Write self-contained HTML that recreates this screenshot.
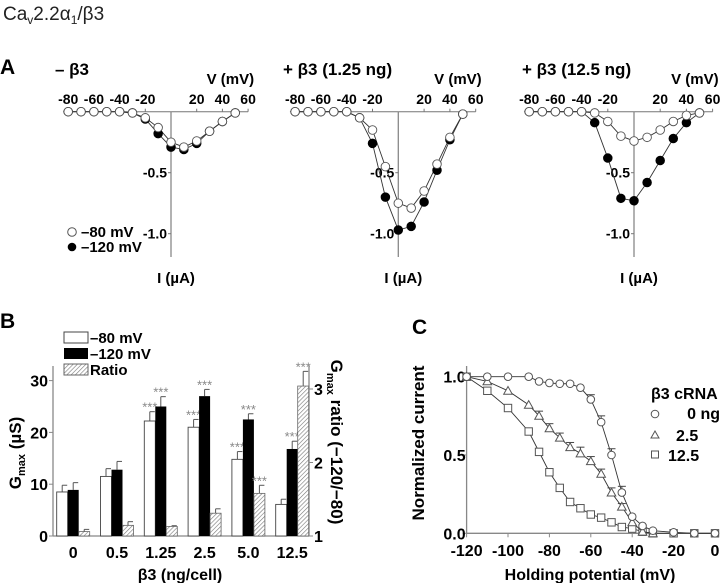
<!DOCTYPE html>
<html><head><meta charset="utf-8">
<style>
body{margin:0;background:#fff;}
svg{display:block;font-family:"Liberation Sans",Arial,sans-serif;}
.b{font-weight:bold;}
</style></head>
<body>
<svg id="fig" width="720" height="583" viewBox="0 0 720 583" xmlns="http://www.w3.org/2000/svg">
<rect width="720" height="583" fill="#fff"/>
<text x="3" y="20" font-size="19" fill="#222">Ca<tspan font-size="12" dy="4">v</tspan><tspan dy="-4">2.2α</tspan><tspan font-size="12" dy="4">1</tspan><tspan dy="-4">/β3</tspan></text>
<text x="0" y="74" font-size="21" class="b">A</text>
<text x="0" y="328" font-size="21" class="b">B</text>
<text x="412" y="334" font-size="21" class="b">C</text>
<g id="gA"></g><g id="gB"></g><g id="gC"></g>
</svg>
<script>
// ---------- Panel A data ----------
const ivVoltages=[-80,-70,-60,-50,-40,-30,-20,-10,0,10,20,30,40,50];
const iv1Open=[0,0,0,0,0,-0.01,-0.05,-0.13,-0.25,-0.29,-0.24,-0.16,-0.08,-0.01];
const iv1Filled=[0,0,0,0,0,-0.01,-0.06,-0.18,-0.29,-0.31,-0.26,-0.16,-0.08,-0.01];
const iv2Open=[0,0,0,0,0,-0.05,-0.15,-0.45,-0.75,-0.79,-0.65,-0.43,-0.21,-0.02];
const iv2Filled=[0,0,0,0,0,-0.05,-0.26,-0.70,-0.97,-0.94,-0.74,-0.48,-0.23,-0.02];
const iv3Open=[0,0,0,0,0,-0.01,-0.08,-0.20,-0.24,-0.21,-0.15,-0.08,-0.03,-0.01];
const iv3Filled=[0,0,0,0,0,-0.09,-0.38,-0.71,-0.73,-0.58,-0.40,-0.22,-0.09,-0.01];
const ivXTicks=[-80,-60,-40,-20,20,40,60];
const ivYTicks=[-0.5,-1.0];
const ivTitles=["– β3","+ β3 (1.25 ng)","+ β3 (12.5 ng)"];
// ---------- Panel B data ----------
const bCategories=["0","0.5","1.25","2.5","5.0","12.5"];
const bWhite=[8.5,11.5,22.2,21,14.8,6.1];
const bWhiteErr=[1.3,1.5,1.8,1.5,1.5,1.0];
const bBlack=[8.9,12.8,25,27,22.5,16.8];
const bBlackErr=[1.4,1.6,1.9,1.3,1.1,1.5];
const bRatio=[1.06,1.145,1.13,1.31,1.58,3.04];
const bRatioErr=[0.03,0.05,0.01,0.06,0.11,0.2];
const bWhiteSig=[false,false,true,true,true,false];
const bBlackSig=[false,false,true,true,true,true];
const bRatioSig=[false,false,false,false,true,true];
const bLeftTicks=[0,10,20,30];
const bRightTicks=[1,2,3];
// ---------- Panel C data ----------
const cCircleX=[-120,-110,-100,-90,-85,-80,-75,-70,-65,-60,-55,-50,-45,-40,-35,-30,-20,-10,0];
const cCircleY=[1.0,1.0,1.0,1.0,0.97,0.96,0.955,0.955,0.93,0.855,0.71,0.5,0.26,0.106,0.047,0.017,0.006,0,0];
const cCircleErr=[0,0,0,0,0,0,0,0,0,0.03,0.04,0.04,0.04,0,0,0,0,0,0];
const cTriX=[-120,-110,-100,-90,-85,-80,-75,-70,-65,-60,-55,-50,-45,-40,-35,-30];
const cTriY=[1.0,0.97,0.91,0.82,0.75,0.67,0.61,0.55,0.51,0.46,0.38,0.26,0.17,0.07,0.01,0];
const cTriErr=[0,0,0,0,0.03,0.03,0.03,0.03,0.04,0.03,0.03,0.03,0.02,0,0,0];
const cSqX=[-120,-110,-100,-90,-85,-80,-75,-70,-65,-60,-55,-50,-45,-40,-35,-30,-20,-10,0];
const cSqY=[1.0,0.91,0.80,0.65,0.52,0.39,0.29,0.20,0.16,0.12,0.10,0.07,0.04,0.03,0.01,0,0,0,0];
const cXTicks=[-120,-100,-80,-60,-40,-20,0];
const cYTicks=[0,0.5,1.0];

const NS="http://www.w3.org/2000/svg";
function mk(parent,tag,attrs,text){const e=document.createElementNS(NS,tag);for(const k in attrs)e.setAttribute(k,attrs[k]);if(text!==undefined)e.textContent=text;parent.appendChild(e);return e;}

// ---------- Panel A ----------
const gA=document.getElementById('gA');
const ivPanels=[
 {x0:171,px:1.285,open:iv1Open,filled:iv1Filled,tx:55},
 {x0:398.3,px:1.29,open:iv2Open,filled:iv2Filled,tx:283},
 {x0:634,px:1.31,open:iv3Open,filled:iv3Filled,tx:522}
];
const ivY0=111.7, ivYs=122;
ivPanels.forEach((p,pi)=>{
 const X=v=>p.x0+v*p.px, Y=i=>ivY0-i*ivYs;
 const g=mk(gA,'g',{});
 
 
 const t=mk(g,'text',{x:p.tx,y:75,'font-size':17,'font-weight':'bold'},ivTitles[pi]);
 
 
 const xa=mk(g,'line',{x1:X(-84),x2:X(60),y1:ivY0,y2:ivY0,stroke:'#777','stroke-width':1});
 
 
 const ya=mk(g,'line',{x1:X(0),x2:X(0),y1:ivY0,y2:257,stroke:'#888','stroke-width':1.3});
 
 
 ivXTicks.forEach(v=>{
  mk(g,'line',{x1:X(v),x2:X(v),y1:ivY0-3,y2:ivY0,stroke:'#777'});
  const l=mk(g,'text',{x:X(v),y:104,'font-size':14,'font-weight':'bold','text-anchor':'middle'},String(v));
  
  
 });
 ivYTicks.forEach(v=>{
  mk(g,'line',{x1:X(0)-3,x2:X(0),y1:Y(v),y2:Y(v),stroke:'#777'});
  const l=mk(g,'text',{x:X(0)-4,y:Y(v)+5,'font-size':14,'font-weight':'bold','text-anchor':'end'},v.toFixed(1));
  
  
 });
 const vl=mk(g,'text',{x:X(60)+6,y:84,'font-size':15,'font-weight':'bold','text-anchor':'end'},'V (mV)');
 
 
 const il=mk(g,'text',{x:X(0)+5,y:283,'font-size':15,'font-weight':'bold','text-anchor':'middle'},'I (µA)');
 
 
 [[p.filled,'#000'],[p.open,'#fff']].forEach(([arr,fill])=>{
  const pts=ivVoltages.map((v,i)=>X(v)+','+Y(arr[i])).join(' ');
  const ln=mk(g,'polyline',{points:pts,fill:'none',stroke:'#333','stroke-width':0.9});
  
  
 });
 [[p.filled,'#000','filled'],[p.open,'#fff','open']].forEach(([arr,fill,nm])=>{
  ivVoltages.forEach((v,i)=>{
   const c=mk(g,'circle',{cx:X(v),cy:Y(arr[i]),r:4.3,fill:fill,stroke:fill==='#000'?'#000':'#555','stroke-width':0.9});
   
   
  });
 });
});
{
 const g=mk(gA,'g',{});
 
 
 mk(g,'circle',{cx:72,cy:232,r:4.3,fill:'#fff',stroke:'#555'});
 mk(g,'text',{x:81,y:237,'font-size':15,'font-weight':'bold'},'–80 mV');
 mk(g,'circle',{cx:72,cy:247,r:4.3,fill:'#000'});
 mk(g,'text',{x:81,y:252,'font-size':15,'font-weight':'bold'},'–120 mV');
}

// ---------- Panel B ----------
const gB=document.getElementById('gB');
mk(gB,'defs',{}).innerHTML='<pattern id="hatch" width="3" height="3" patternUnits="userSpaceOnUse" patternTransform="rotate(45)"><rect width="3" height="3" fill="#fff"/><line x1="0" y1="0" x2="0" y2="3" stroke="#777" stroke-width="1.2"/></pattern>';
const bL=53,bR=309,bY0=536;
const BY=v=>bY0-v*5.18, RY=r=>bY0-(r-1)*73.5;
const groupX=i=>56.7+i*43.8;
const bw=11;
{
 const a=mk(gB,'line',{x1:bL,x2:bL,y1:366,y2:bY0,stroke:'#888','stroke-width':1.3});
 
 
 const r=mk(gB,'line',{x1:bR,x2:bR,y1:365,y2:bY0,stroke:'#888','stroke-width':1.3});
 
 
 const x=mk(gB,'line',{x1:bL,x2:bR,y1:bY0,y2:bY0,stroke:'#888','stroke-width':1.3});
 
 
}
bLeftTicks.forEach(v=>{
 mk(gB,'line',{x1:bL-4,x2:bL,y1:BY(v),y2:BY(v),stroke:'#888'});
 const l=mk(gB,'text',{x:bL-5,y:BY(v)+6,'font-size':16,'font-weight':'bold','text-anchor':'end'},String(v));
 
 
});
bRightTicks.forEach(v=>{
 mk(gB,'line',{x1:bR,x2:bR+4,y1:RY(v),y2:RY(v),stroke:'#888'});
 const l=mk(gB,'text',{x:bR+5,y:RY(v)+6,'font-size':16,'font-weight':'bold'},String(v));
 
 
});
function star(x,y){const s=mk(gB,'text',{x:x,y:y+3,'font-size':13,fill:'#888','text-anchor':'middle'},'***');}
function errBar(x,y1,y2){mk(gB,'line',{x1:x,x2:x,y1:y1,y2:y2,stroke:'#555'});mk(gB,'line',{x1:x,x2:x+5,y1:y2,y2:y2,stroke:'#555'});}
bCategories.forEach((c,i)=>{
 const gx=groupX(i);
 let top=BY(bWhite[i]);
 errBar(gx+bw/2,top,BY(bWhite[i]+bWhiteErr[i]));
 const w=mk(gB,'rect',{x:gx,y:top,width:bw,height:bY0-top,fill:'#fff',stroke:'#444','stroke-width':0.9});
 
 
 if(bWhiteSig[i]) star(gx+bw/2,BY(bWhite[i]+bWhiteErr[i])-3);
 top=BY(bBlack[i]);
 errBar(gx+bw*1.5,top,BY(bBlack[i]+bBlackErr[i]));
 const b=mk(gB,'rect',{x:gx+bw,y:top,width:bw,height:bY0-top,fill:'#000'});
 
 
 if(bBlackSig[i]) star(gx+bw*1.5,BY(bBlack[i]+bBlackErr[i])-3);
 top=RY(bRatio[i]);
 errBar(gx+bw*2.5,top,RY(bRatio[i]+bRatioErr[i]));
 const r=mk(gB,'rect',{x:gx+bw*2,y:top,width:bw,height:bY0-top,fill:'url(#hatch)',stroke:'#666','stroke-width':0.8});
 
 
 if(bRatioSig[i]) star(gx+bw*2.5,RY(bRatio[i]+bRatioErr[i])-3);
 const l=mk(gB,'text',{x:gx+bw*1.5,y:558,'font-size':16,'font-weight':'bold','text-anchor':'middle'},c);
 
 
});
{
 const g=mk(gB,'g',{});
 
 
 mk(g,'rect',{x:64,y:332,width:24,height:11,fill:'#fff',stroke:'#444'});
 mk(g,'text',{x:90,y:343,'font-size':15,'font-weight':'bold'},'–80 mV');
 mk(g,'rect',{x:64,y:348,width:24,height:11,fill:'#000'});
 mk(g,'text',{x:90,y:359,'font-size':15,'font-weight':'bold'},'–120 mV');
 mk(g,'rect',{x:64,y:364,width:24,height:11,fill:'url(#hatch)',stroke:'#666'});
 mk(g,'text',{x:90,y:375,'font-size':15,'font-weight':'bold'},'Ratio');
 const yl=mk(gB,'text',{x:0,y:0,'font-size':17,'font-weight':'bold','text-anchor':'middle',transform:'translate(21,453) rotate(-90)'});
 yl.innerHTML='G<tspan font-size="11" dy="4">max</tspan><tspan dy="-4"> (µS)</tspan>';
 
 
 const rl=mk(gB,'text',{x:0,y:0,'font-size':17,'font-weight':'bold','text-anchor':'middle',transform:'translate(331,442) rotate(90)'});
 rl.innerHTML='G<tspan font-size="11" dy="4">max</tspan><tspan dy="-4"> ratio (−120/−80)</tspan>';
 
 
 const xl=mk(gB,'text',{x:180,y:580,'font-size':16,'font-weight':'bold','text-anchor':'middle'},'β3 (ng/cell)');
 
 
}

// ---------- Panel C ----------
const gC=document.getElementById('gC');
const CX=v=>715+v*2.07, CY=v=>533.3-v*156.6;
{
 const a=mk(gC,'line',{x1:CX(-120),x2:CX(-120),y1:366,y2:CY(0),stroke:'#888','stroke-width':1.3});
 
 
 const x=mk(gC,'line',{x1:CX(-120),x2:CX(0),y1:CY(0),y2:CY(0),stroke:'#888','stroke-width':1.3});
 
 
}
cXTicks.forEach(v=>{
 mk(gC,'line',{x1:CX(v),x2:CX(v),y1:CY(0),y2:CY(0)+4,stroke:'#888'});
 const l=mk(gC,'text',{x:CX(v),y:556,'font-size':16,'font-weight':'bold','text-anchor':'middle'},String(v));
 
 
});
cYTicks.forEach(v=>{
 mk(gC,'line',{x1:CX(-120)-4,x2:CX(-120),y1:CY(v),y2:CY(v),stroke:'#888'});
 const l=mk(gC,'text',{x:CX(-120)-1,y:CY(v)+6,'font-size':16,'font-weight':'bold','text-anchor':'end'},v.toFixed(1));
 
 
});
function cSeries(xs,ys,errs,shape,name){
 const pts=xs.map((v,i)=>CX(v)+','+CY(ys[i])).join(' ');
 const ln=mk(gC,'polyline',{points:pts,fill:'none',stroke:'#333','stroke-width':0.9});
 
 
 xs.forEach((v,i)=>{
  const x=CX(v),y=CY(ys[i]);
  if(errs&&errs[i]>0){const ye=CY(ys[i]+errs[i]);mk(gC,'line',{x1:x,x2:x,y1:y,y2:ye,stroke:'#444'});mk(gC,'line',{x1:x-4,x2:x+4,y1:ye,y2:ye,stroke:'#444'});}
  let m;
  if(shape==='c') m=mk(gC,'circle',{cx:x,cy:y,r:3.8,fill:'#fff',stroke:'#555','stroke-width':1});
  else if(shape==='t') m=mk(gC,'polygon',{points:`${x},${y-4.3} ${x-4.3},${y+3.4} ${x+4.3},${y+3.4}`,fill:'#fff',stroke:'#555','stroke-width':1});
  else m=mk(gC,'rect',{x:x-3.7,y:y-3.7,width:7.4,height:7.4,fill:'#fff',stroke:'#555','stroke-width':1});
  
  
 });
}
cSeries(cSqX,cSqY,null,'s','12.5ng');
cSeries(cTriX,cTriY,cTriErr,'t','2.5ng');
cSeries(cCircleX,cCircleY,cCircleErr,'c','0ng');
{
 const g=mk(gC,'g',{});
 
 
 mk(g,'text',{x:651,y:399,'font-size':16,'font-weight':'bold'},'β3 cRNA');
 mk(g,'circle',{cx:655,cy:414,r:3.8,fill:'#fff',stroke:'#555'});
 mk(g,'text',{x:720,y:419,'font-size':16,'font-weight':'bold','text-anchor':'end'},'0 ng');
 mk(g,'polygon',{points:'655,431 651,438 659,438',fill:'#fff',stroke:'#555'});
 mk(g,'text',{x:676,y:441,'font-size':16,'font-weight':'bold'},'2.5');
 mk(g,'rect',{x:651.5,y:451,width:7,height:7,fill:'#fff',stroke:'#555'});
 mk(g,'text',{x:668,y:461,'font-size':16,'font-weight':'bold'},'12.5');
 const yl=mk(gC,'text',{x:0,y:0,'font-size':17,'font-weight':'bold','text-anchor':'middle',transform:'translate(424,443) rotate(-90)'},'Normalized current');
 
 
 const xl=mk(gC,'text',{x:590,y:580,'font-size':16,'font-weight':'bold','text-anchor':'middle'},'Holding potential (mV)');
 
 
}
</script>
</body></html>
